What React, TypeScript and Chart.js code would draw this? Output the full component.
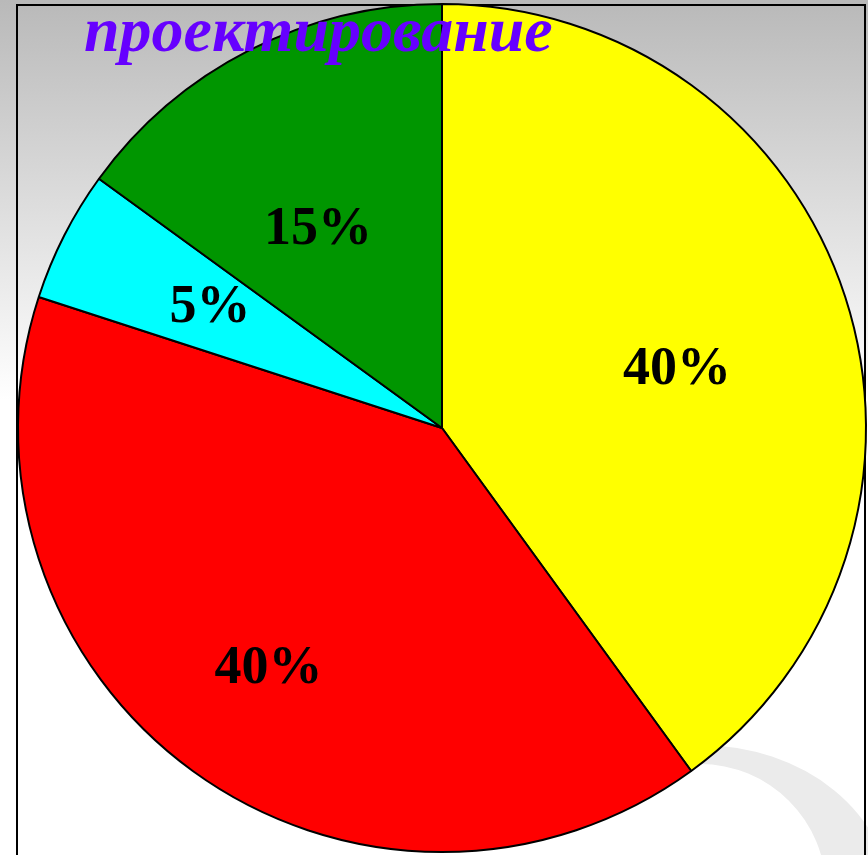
import React, { useEffect, useRef } from "react";
import { Chart, registerables } from "chart.js";

Chart.register(...registerables);

// ---- data ----
const categories = ["Сегмент 1", "Сегмент 2", "Сегмент 3", "Сегмент 4"];
const values = [40, 40, 5, 15];
const valueLabels = ["40%", "40%", "5%", "15%"];
const titleText = "проектирование";

// ---- styles ----
const sliceColors = ["#ffff00", "#ff0000", "#00ffff", "#009600"];
const labelRadiusFrac = [0.572, 0.696, 0.618, 0.555];
const labelAngleAdjDeg = [3.7, 0, 0.7, -4.8];

const backgroundPlugin = {
  id: "bgDecor",
  beforeDraw(chart: any) {
    const { ctx, width, height } = chart;
    ctx.save();
    const g = ctx.createLinearGradient(0, 0, 0, 400);
    g.addColorStop(0, "#b9b9b9");
    g.addColorStop(1, "#ffffff");
    ctx.fillStyle = g;
    ctx.fillRect(0, 0, width, height);
    // swoosh (crescent)
    ctx.save();
    ctx.beginPath();
    ctx.rect(695, 600, width - 695, height);
    ctx.clip();
    ctx.fillStyle = "#ebebeb";
    ctx.beginPath();
    ctx.ellipse(700, 900, 190, 155, 0, 0, Math.PI * 2);
    ctx.moveTo(700 + 126, 890);
    ctx.arc(700, 890, 126, 0, Math.PI * 2, true);
    ctx.fill("evenodd");
    ctx.restore();
    // frame
    ctx.strokeStyle = "#000";
    ctx.lineWidth = 2;
    ctx.beginPath();
    ctx.moveTo(17, height + 5);
    ctx.lineTo(17, 5);
    ctx.lineTo(865, 5);
    ctx.lineTo(865, height + 5);
    ctx.stroke();
    ctx.restore();
  },
};

const labelPlugin = {
  id: "sliceLabels",
  afterDatasetsDraw(chart: any) {
    const { ctx } = chart;
    const meta = chart.getDatasetMeta(0);
    ctx.save();
    ctx.font = "bold 54px 'Liberation Serif', 'Times New Roman', serif";
    ctx.fillStyle = "#000";
    ctx.textAlign = "center";
    ctx.textBaseline = "middle";
    meta.data.forEach((arc: any, i: number) => {
      const p = arc.getProps(["x", "y", "startAngle", "endAngle", "outerRadius"], true);
      const mid = (p.startAngle + p.endAngle) / 2 + (labelAngleAdjDeg[i] * Math.PI) / 180;
      const r = p.outerRadius * labelRadiusFrac[i];
      ctx.fillText(valueLabels[i], p.x + Math.cos(mid) * r, p.y + Math.sin(mid) * r + 2);
    });
    ctx.restore();
  },
  afterDraw(chart: any) {
    const { ctx } = chart;
    ctx.save();
    ctx.font = "italic bold 64px 'Liberation Serif', 'Times New Roman', serif";
    ctx.fillStyle = "#6600ff";
    ctx.textAlign = "left";
    ctx.textBaseline = "alphabetic";
    ctx.fillText(titleText, 84, 51);
    ctx.restore();
  },
};

export default function App() {
  const ref = useRef<HTMLCanvasElement>(null);
  useEffect(() => {
    if (!ref.current) return;
    const chart = new Chart(ref.current, {
      type: "pie",
      data: {
        labels: categories,
        datasets: [
          {
            data: values,
            backgroundColor: sliceColors,
            borderColor: "#000",
            borderWidth: 2,
          },
        ],
      },
      options: {
        animation: false,
        responsive: false,
        radius: 424,
        layout: { padding: { left: 16, right: 0, top: 1, bottom: 0 } },
        plugins: {
          legend: { display: false },
          tooltip: { enabled: false },
          title: { display: false },
        },
      } as any,
      plugins: [backgroundPlugin, labelPlugin],
    });
    return () => chart.destroy();
  }, []);
  return (
    <div style={{ position: "fixed", left: 0, top: 0, width: 868, height: 855 }}>
      <canvas ref={ref} width={868} height={855} style={{ display: "block" }} />
    </div>
  );
}
